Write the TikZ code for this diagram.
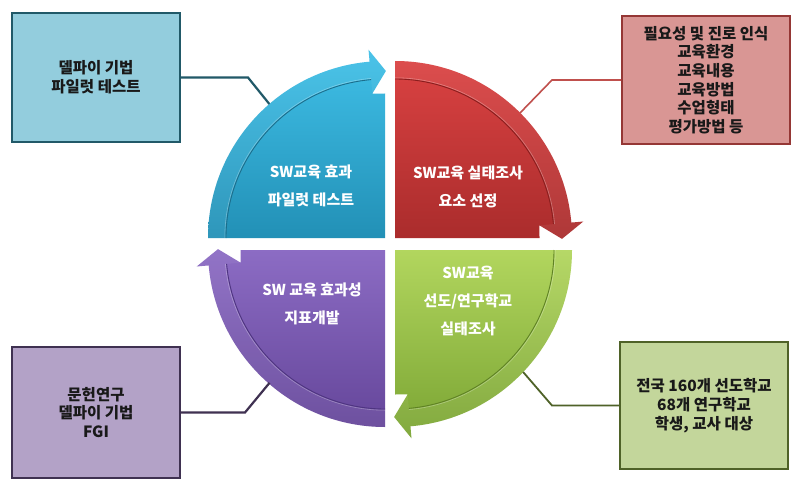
\documentclass[tikz,border=0pt]{standalone}
\usepackage{fontspec}
\setmainfont{Noto Sans CJK KR}
\usetikzlibrary{calc}
\definecolor{bluetop}{HTML}{40C0E8}
\definecolor{bluebot}{HTML}{2290B6}
\definecolor{blueedge}{HTML}{1B6E8C}
\definecolor{redtop}{HTML}{DA4242}
\definecolor{redbot}{HTML}{AA2C2C}
\definecolor{rededge}{HTML}{8A1E1E}
\definecolor{greentop}{HTML}{B2D65E}
\definecolor{greenbot}{HTML}{7AA433}
\definecolor{greenedge}{HTML}{5F8224}
\definecolor{purptop}{HTML}{8C6CC4}
\definecolor{purpbot}{HTML}{65469A}
\definecolor{purpedge}{HTML}{4E3480}
\definecolor{bbfill}{HTML}{93CDDD}
\definecolor{bbline}{HTML}{215968}
\definecolor{rbfill}{HTML}{D99694}
\definecolor{rbline}{HTML}{953735}
\definecolor{rconn}{HTML}{C0504D}
\definecolor{pbfill}{HTML}{B3A2C7}
\definecolor{pbline}{HTML}{3F3151}
\definecolor{gbfill}{HTML}{C3D69B}
\definecolor{gbline}{HTML}{4F6228}
\newcommand{\drawquad}[5]{%
  \shade[top color=#3, bottom color=#4]
    (#1) -- ($(#1)+(#2:177)$) arc[start angle=#2, end angle=#2-85, radius=177]
    -- ($(#1)+(#2-85:189)$) -- ($(#1)+(#2-90.3:167)$) -- ($(#1)+(#2-85:145)$)
    -- ($(#1)+(#2-90:144.5)$) -- cycle;
  \fill[white, opacity=0.06]
    ($(#1)+(#2:177)$) arc[start angle=#2, end angle=#2-85, radius=177]
    -- ($(#1)+(#2-85:189)$) -- ($(#1)+(#2-90.3:167)$) -- ($(#1)+(#2-85:145)$)
    -- ($(#1)+(#2-85:159)$) arc[start angle=#2-85, end angle=#2, radius=159] -- cycle;
  \draw[#5, line width=0.9]
    ($(#1)+(#2-85:159)$) arc[start angle=#2-85, end angle=#2, radius=159];
  \draw[white, opacity=0.3, line width=0.6]
    ($(#1)+(#2-85:160.2)$) arc[start angle=#2-85, end angle=#2, radius=160.2];
}
\tikzset{
  infobox/.style={draw, line width=2pt, minimum width=168pt, align=center,
    font=\fontsize{15.5}{18.7}\selectfont\bfseries, text=black!90},
  quadtext/.style={align=center, text=white, font=\fontsize{15}{28}\selectfont\bfseries},
  connector/.style={line width=2.2pt}
}
\begin{document}
\begin{tikzpicture}[x=1pt, y=1pt]
\useasboundingbox (0,0) rectangle (795,491);
\fill[white] (0,0) rectangle (795,491);
\coordinate (cb) at (385,253);
\coordinate (cr) at (395,253);
\coordinate (cg) at (395,241);
\coordinate (cp) at (385,241);
\drawquad{cb}{180}{bluetop}{bluebot}{blueedge}
\drawquad{cr}{90}{redtop}{redbot}{rededge}
\drawquad{cg}{0}{greentop}{greenbot}{greenedge}
\drawquad{cp}{-90}{purptop}{purpbot}{purpedge}

\node[quadtext] (qb) at (311,305) {SW교육 효과\\파일럿 테스트};
\node[quadtext] (qr) at (468,304.5) {SW교육 실태조사\\요소 선정};
\node[quadtext] (qp) at (312,187) {SW 교육 효과성\\지표개발};
\node[quadtext] (qg) at (468,189.5) {SW교육\\선도/연구학교\\실태조사};

\node[infobox, fill=bbfill, draw=bbline, minimum height=129pt] (bb) at (96,413.5) {델파이 기법\\파일럿 테스트};
\node[infobox, fill=rbfill, draw=rbline, line width=1.6pt, minimum height=128pt] (rb) at (706,411) {필요성 및 진로 인식\\교육환경\\교육내용\\교육방법\\수업형태\\평가방법 등};
\node[infobox, fill=pbfill, draw=pbline, minimum height=131pt] (pb) at (96,78.5) {문헌연구\\델파이 기법\\FGI};
\node[infobox, fill=gbfill, draw=gbline, minimum height=127pt] (gb) at (704,85.5) {전국 160개 선도학교\\68개 연구학교\\학생, 교사 대상};

\coordinate (ab) at ($(cb)+(130.8:177)$);
\coordinate (ar) at ($(cr)+(45:177)$);
\coordinate (ap) at ($(cp)+(229:176)$);
\coordinate (ag) at ($(cg)+(-43.6:177)$);
\coordinate (kb) at (248,413.5);
\coordinate (kr) at (552,411);
\coordinate (kp) at (245,78.5);
\coordinate (kg) at (552,85.5);
\draw[connector, bbline] (bb.east) -- (kb) -- (ab);
\draw[connector, rconn, line width=1.6pt] (rb.west) -- (kr) -- (ar);
\draw[connector, pbline] (pb.east) -- (kp) -- (ap);
\draw[connector, gbline, line width=1.8pt] (gb.west) -- (kg) -- (ag);
\end{tikzpicture}
\end{document}
